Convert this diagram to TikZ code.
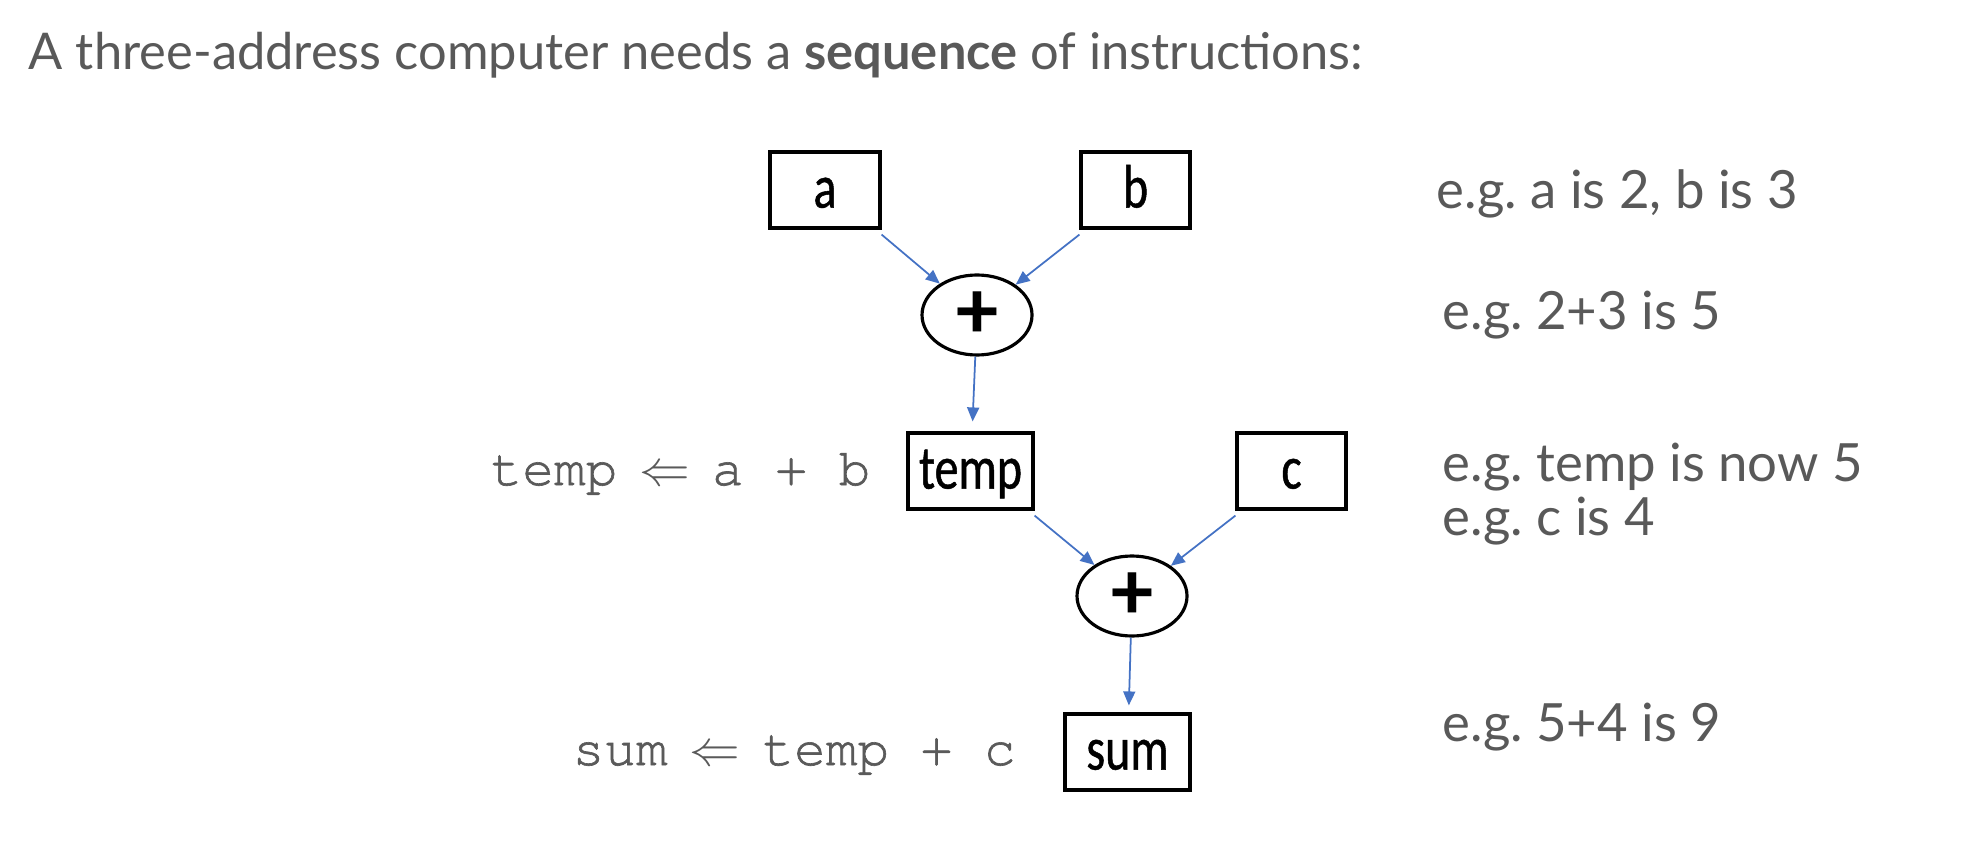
\documentclass[tikz,border=0pt]{standalone}
\usepackage{fontspec}
\setmainfont{Lato}
\setmonofont[FakeBold=1.2]{TeX Gyre Cursor}
\newfontfamily\boxfont[FakeStretch=0.78,FakeBold=0.8]{Carlito}
\newfontfamily\opfont{Carlito}
\usetikzlibrary{arrows.meta,shapes.geometric}
\definecolor{txtgray}{HTML}{595959}
\definecolor{codegray}{HTML}{5A5A5A}
\definecolor{flowblue}{HTML}{4472C4}
\newcommand\assignto{\makebox[0.6em]{$\Leftarrow$}}
\tikzset{
  var/.style={draw, line width=0.9pt, minimum height=0.76cm, inner sep=0pt,
    text height=12pt, text depth=2pt,
    font=\boxfont\fontsize{17.5}{18}\selectfont},
  op/.style={draw, ellipse, line width=0.9pt, minimum width=1.1cm,
    minimum height=0.8cm, inner sep=0pt,
    font=\opfont\bfseries\fontsize{24}{26}\selectfont},
  flow/.style={draw=flowblue, line width=0.5pt,
    -{Triangle[length=1.4mm,width=1.2mm]}},
  note/.style={anchor=base west, text=txtgray, inner sep=0pt,
    font=\fontsize{15}{17}\selectfont},
  code/.style={anchor=base west, text=codegray, inner sep=0pt,
    font=\ttfamily\fontsize{15}{17}\selectfont}
}
\begin{document}
\begin{tikzpicture}
  \useasboundingbox (0,0) rectangle (19.70,-8.52);
  \node [note, font=\fontsize{14.4}{16}\selectfont] (title) at (0.28,-0.70)
    {A three-address computer needs a \textbf{sequence} of instructions:};
  % the tree
  \node [var, minimum width=1.10cm] (a) at (8.25,-1.90) {a};
  \node [var, minimum width=1.09cm] (b) at (11.355,-1.90) {b};
  \node [op] (add1) at (9.77,-3.15) {+};
  \node [var, minimum width=1.25cm] (temp) at (9.705,-4.71) {temp};
  \node [var, minimum width=1.09cm] (c) at (12.915,-4.71) {c};
  \node [op] (add2) at (11.32,-5.96) {+};
  \node [var, minimum width=1.25cm] (sum) at (11.275,-7.52) {sum};
  \draw [flow] ([yshift=-0.5mm]a.south east) -- (add1);
  \draw [flow] ([yshift=-0.5mm]b.south west) -- (add1);
  \draw [flow, shorten >=1mm] (add1) -- (temp);
  \draw [flow] ([yshift=-0.5mm]temp.south east) -- (add2);
  \draw [flow] ([yshift=-0.5mm]c.south west) -- (add2);
  \draw [flow, shorten >=0.7mm] (add2) -- (sum);
  % the instructions
  \node [code] (instr1) at (4.90,-4.85) {temp \assignto{} a + b};
  \node [code] (instr2) at (5.72,-7.65) {sum \assignto{} temp + c};
  % the values
  \node [note] (eg1) at (14.36,-2.09) {e.g.\ a is 2, b is 3};
  \node [note] (eg2) at (14.42,-3.29) {e.g.\ 2+3 is 5};
  \node [note] (eg3) at (14.42,-4.81) {e.g.\ temp is now 5};
  \node [note] (eg4) at (14.42,-5.35) {e.g.\ c is 4};
  \node [note] (eg5) at (14.42,-7.41) {e.g.\ 5+4 is 9};
\end{tikzpicture}
\end{document}
